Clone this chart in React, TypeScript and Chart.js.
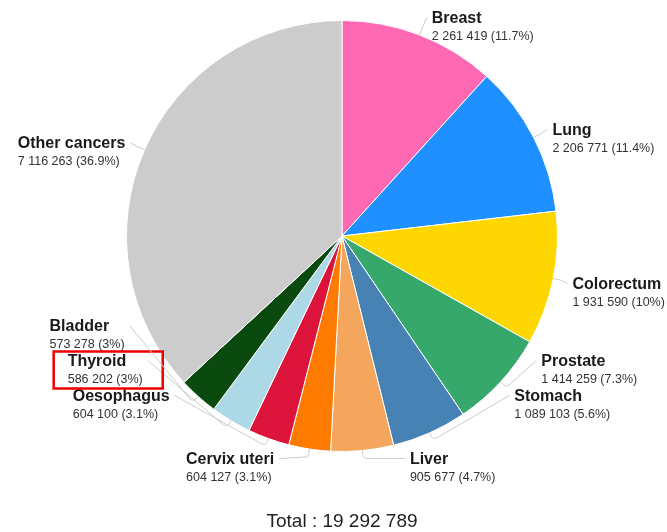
import { useEffect, useRef } from "react";
import { Chart, registerables } from "chart.js";

Chart.register(...registerables);

const categories = [
  "Breast",
  "Lung",
  "Colorectum",
  "Prostate",
  "Stomach",
  "Liver",
  "Cervix uteri",
  "Oesophagus",
  "Thyroid",
  "Bladder",
  "Other cancers",
];

const values = [
  2261419, 2206771, 1931590, 1414259, 1089103, 905677, 604127, 604100, 586202,
  573278, 7116263,
];

const colors = [
  "#ff69b4",
  "#1e90ff",
  "#ffd700",
  "#37a86b",
  "#4682b4",
  "#f4a65c",
  "#ff7b00",
  "#dc143c",
  "#add8e6",
  "#0b4a0e",
  "#cccccc",
];

const highlighted = "Thyroid";

const fmt = (n: number) => String(n).replace(/\B(?=(\d{3})+(?!\d))/g, " ");
const pct = (v: number, t: number) => {
  const s = ((v / t) * 100).toFixed(1);
  return (s.endsWith(".0") ? s.slice(0, -2) : s) + "%";
};

const FONT = '"Liberation Sans", Arial, sans-serif';

const labelsPlugin = {
  id: "pieLabels",
  afterDraw(chart: any) {
    const ctx = chart.ctx as CanvasRenderingContext2D;
    const meta = chart.getDatasetMeta(0);
    const total = values.reduce((a, b) => a + b, 0);
    const arcs = meta.data;
    if (!arcs.length) return;
    const p0 = arcs[0].getProps(["x", "y", "outerRadius"], true);
    const cx = p0.x;
    const cy = p0.y;
    const r = p0.outerRadius;
    const R = r + 20;

    type Item = {
      i: number;
      a: number;
      side: number;
      natY: number;
      bottom: boolean;
      y: number;
      x: number;
    };
    const items: Item[] = arcs.map((arc: any, i: number) => {
      const p = arc.getProps(["startAngle", "endAngle"], true);
      const a = (p.startAngle + p.endAngle) / 2;
      const side = Math.cos(a) >= 0 ? 1 : -1;
      const natY = cy + Math.sin(a) * R + 2;
      const bottom = Math.sin(a) * R > R * 0.975;
      return { i, a, side, natY, bottom, y: natY, x: 0 };
    });

    // bottom row
    items
      .filter((it) => it.bottom)
      .forEach((it) => {
        it.y = cy + R - 12;
        it.x = cx + it.side * Math.sqrt(R * R - (R - 10) * (R - 10));
      });

    [1, -1].forEach((side) => {
      const list = items
        .filter((it) => !it.bottom && it.side === side)
        .sort((p, q) => q.natY - p.natY);
      let prev = Infinity;
      list.forEach((it) => {
        const y = Math.min(it.natY, cy + R - 75, prev - 35);
        it.y = y;
        prev = y;
        const dy = y - cy;
        it.x = cx + side * Math.sqrt(Math.max(0, R * R - dy * dy));
      });
    });

    ctx.save();
    items.forEach((it) => {
      const name = categories[it.i];
      const val = `${fmt(values[it.i])} (${pct(values[it.i], total)})`;
      ctx.font = `bold 16px ${FONT}`;
      const wn = ctx.measureText(name).width;
      ctx.font = `12.5px ${FONT}`;
      const wv = ctx.measureText(val).width;
      const bw = Math.max(wn, wv);
      const left = it.side > 0 ? it.x : it.x - bw;

      // leader line
      const ex = cx + Math.cos(it.a) * r;
      const ey = cy + Math.sin(it.a) * r;
      const mx = cx + Math.cos(it.a) * (r + 8);
      const my = cy + Math.sin(it.a) * (r + 8);
      const tx = it.x - it.side * 5;
      const ty = it.y - 1;
      ctx.strokeStyle = "#cccccc";
      ctx.lineWidth = 1;
      ctx.beginPath();
      ctx.moveTo(ex, ey);
      ctx.arcTo(mx, my, tx, ty, 4);
      ctx.lineTo(tx, ty);
      ctx.stroke();

      ctx.textAlign = "left";
      ctx.textBaseline = "middle";
      ctx.fillStyle = "#1a1a1a";
      ctx.font = `bold 16px ${FONT}`;
      ctx.fillText(name, left, it.y);
      ctx.fillStyle = "#333333";
      ctx.font = `12.5px ${FONT}`;
      ctx.fillText(val, left, it.y + 18);

      if (name === highlighted) {
        ctx.strokeStyle = "#ee0000";
        ctx.lineWidth = 2.5;
        ctx.strokeRect(left - 14, it.y - 10, bw + 34, 37);
      }
    });

    ctx.fillStyle = "#222222";
    ctx.font = `19px ${FONT}`;
    ctx.textAlign = "center";
    ctx.textBaseline = "middle";
    ctx.fillText(`Total : ${fmt(total)}`, cx, 522);
    ctx.restore();
  },
};

export default function App() {
  const ref = useRef<HTMLCanvasElement | null>(null);
  useEffect(() => {
    if (!ref.current) return;
    const chart = new Chart(ref.current, {
      type: "pie",
      data: {
        labels: categories,
        datasets: [
          {
            data: values,
            backgroundColor: colors,
            borderColor: "#ffffff",
            borderWidth: 1,
          },
        ],
      },
      options: {
        animation: false,
        responsive: true,
        maintainAspectRatio: false,
        layout: { padding: { top: 20, bottom: 80, left: 126, right: 109 } },
        plugins: {
          legend: { display: false },
          tooltip: { enabled: false },
        },
      },
      plugins: [labelsPlugin],
    });
    return () => chart.destroy();
  }, []);
  return (
    <div
      style={{
        position: "fixed",
        left: 0,
        top: 0,
        width: 667,
        height: 532,
        background: "#fff",
      }}
    >
      <canvas ref={ref} />
    </div>
  );
}
